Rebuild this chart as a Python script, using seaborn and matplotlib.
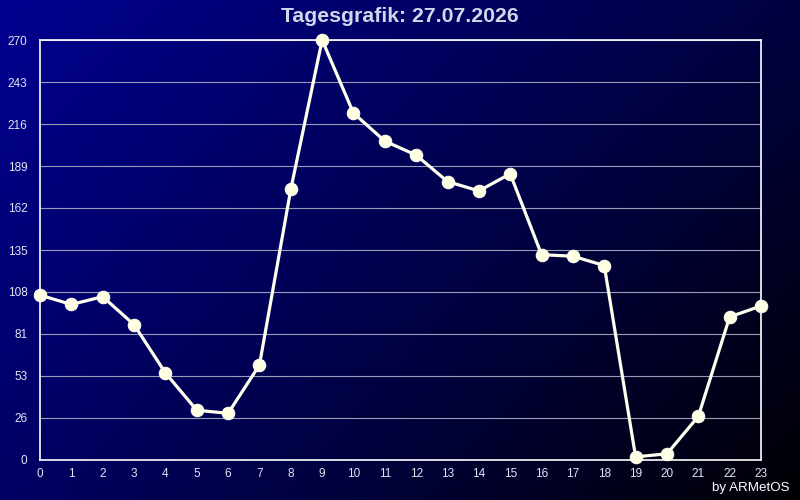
import numpy as np
import pandas as pd
import matplotlib
matplotlib.use("Agg")
import matplotlib.pyplot as plt
import seaborn as sns

TITLE = "Tagesgrafik: 27.07.2026"
CREDIT = "by ARMetOS"

hours = list(range(24))
values = [106, 100, 105, 87, 56, 32, 30, 61, 174, 270, 223, 205, 196, 179, 173, 184,
          132, 131, 125, 2, 4, 28, 92, 99]
ytick_pos = [0, 27, 54, 81, 108, 135, 162, 189, 216, 243, 270]
ytick_labels = ["0", "26", "53", "81", "108", "135", "162", "189", "216", "243", "270"]

LINE_COLOR = "#FFFFEE"
TICK_COLOR = "#E2E4F4"
GRID_COLOR = "#9A9CB8"

sns.set_style("white")
plt.rcParams["font.family"] = ["Liberation Sans", "DejaVu Sans"]

df = pd.DataFrame({"hour": hours, "value": values})

fig = plt.figure(figsize=(8, 5), dpi=100)

# background gradient: corner blues (0-255), blended bilinearly
TL, TR, BL, BR = 144, 64, 100, 4
bg = fig.add_axes([0, 0, 1, 1], zorder=-10)
gx, gy = np.meshgrid(np.linspace(0, 1, 400), np.linspace(0, 1, 250))
blue = (TL * (1 - gx) * (1 - gy) + TR * gx * (1 - gy)
        + BL * (1 - gx) * gy + BR * gx * gy) / 255
img = np.zeros((250, 400, 3))
img[..., 2] = blue
bg.imshow(img, aspect="auto", extent=[0, 1, 0, 1], origin="upper")
bg.axis("off")

ax = fig.add_axes([40 / 800, 40 / 500, 721 / 800, 420 / 500])
ax.set_facecolor("none")

sns.lineplot(data=df, x="hour", y="value", ax=ax, color=LINE_COLOR, linewidth=2.3,
             marker="o", markersize=9, markeredgecolor=LINE_COLOR,
             markerfacecolor="#FFFFE4", clip_on=False, zorder=5)

ax.set_xlim(0, 23)
ax.set_ylim(0, 270)
ax.set_xticks(hours)
ax.set_xticklabels([str(h) for h in hours], color=TICK_COLOR, fontsize=8.5)
ax.set_yticks(ytick_pos)
ax.set_yticklabels(ytick_labels, color=TICK_COLOR, fontsize=8.5)
ax.tick_params(axis="both", length=0)
ax.tick_params(axis="y", pad=9)
ax.tick_params(axis="x", pad=6)
ax.set_xlabel("")
ax.set_ylabel("")

ax.yaxis.grid(True, color=GRID_COLOR, linewidth=0.8)
ax.xaxis.grid(False)
ax.set_axisbelow(True)
for side in ["left", "right", "top", "bottom"]:
    ax.spines[side].set_visible(True)
    ax.spines[side].set_color("white")
    ax.spines[side].set_linewidth(1.2)

fig.text(0.5, 1 - 17 / 500, TITLE, ha="center", va="center", fontsize=15.3,
         fontweight="bold", color="#D2D6EA")
fig.text(789 / 800, 1 - 488 / 500, CREDIT, ha="right", va="center", fontsize=9.6,
         color="white")

fig.savefig("out.png", dpi=100, facecolor="black")
